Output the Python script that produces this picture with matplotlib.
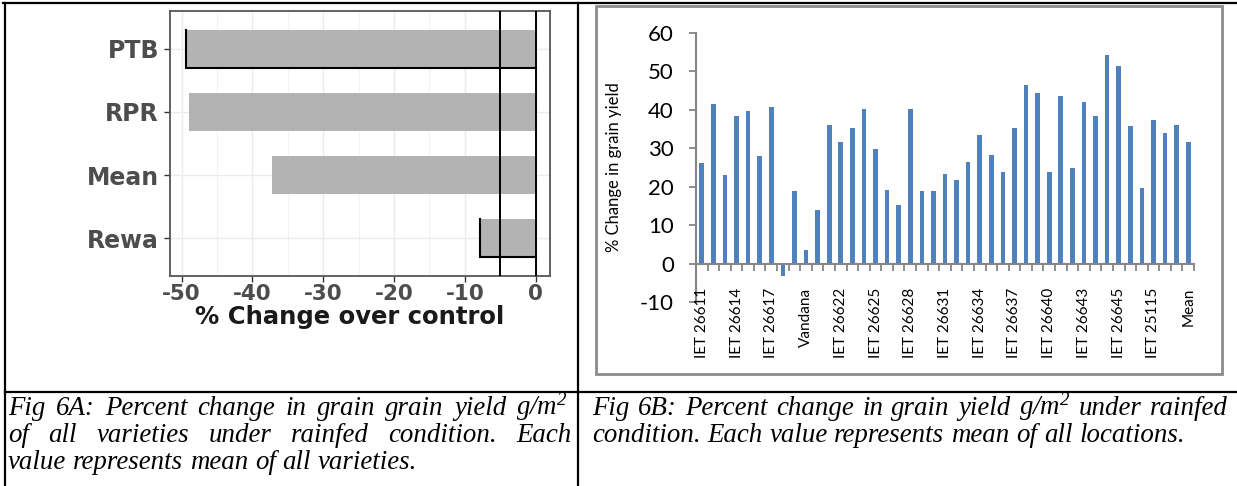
import matplotlib
matplotlib.use("Agg")
import matplotlib.pyplot as plt
import matplotlib.transforms as mtransforms
import numpy as np
from matplotlib.lines import Line2D
from matplotlib.patches import Rectangle

# ---- data -------------------------------------------------------------
# Fig 6A: mean % change over control by location
locations = ["PTB", "RPR", "Mean", "Rewa"]
loc_change = [-49.4, -48.9, -37.3, -7.8]
outlined_locations = ["PTB", "Rewa"]
ref_line = -5

# Fig 6B: % change in grain yield per entry (43 entries, every third labelled)
yield_change = [26.3, 41.5, 23.0, 38.5, 39.7, 28.0, 40.8, -3.2, 19.0, 3.6,
                14.0, 36.1, 31.6, 35.4, 40.1, 29.9, 19.2, 15.3, 40.2, 18.8,
                19.0, 23.3, 21.8, 26.4, 33.5, 28.3, 23.7, 35.3, 46.5, 44.5,
                23.8, 43.5, 24.8, 42.0, 38.5, 54.4, 51.5, 35.9, 19.6, 37.3,
                34.0, 36.1, 31.7]
entry_labels = ["IET 26611", "IET 26614", "IET 26617", "Vandana", "IET 26622",
                "IET 26625", "IET 26628", "IET 26631", "IET 26634", "IET 26637",
                "IET 26640", "IET 26643", "IET 26645", "IET 25115", "Mean"]
label_step = 3
y_ticks_b = [-10, 0, 10, 20, 30, 40, 50, 60]
x_ticks_a = [-50, -40, -30, -20, -10, 0]

caption_a = ["Fig 6A: Percent change in grain grain yield g/m$^2$",
             "of all varieties under rainfed condition. Each",
             "value represents mean of all varieties."]
caption_b = ["Fig 6B: Percent change in grain yield g/m$^2$ under rainfed",
             "condition. Each value represents mean of all locations."]

# ---- figure -----------------------------------------------------------
W, H = 1237, 486
plt.rcParams["mathtext.fontset"] = "custom"
plt.rcParams["mathtext.rm"] = "Liberation Serif:italic"
plt.rcParams["mathtext.it"] = "Liberation Serif:italic"
fig = plt.figure(figsize=(W / 100, H / 100), dpi=100)
fig.patch.set_facecolor("white")


def rect(l, t, r, b):
    return [l / W, 1 - b / H, (r - l) / W, (b - t) / H]


def fx(x):
    return x / W


def fy(y):
    return 1 - y / H


# ---- table frame --------------------------------------------------------
for xs, ys in [((3, W), (3, 3)), ((5, 5), (3, H)), ((578, 578), (3, H)),
               ((5, W), (392, 392))]:
    fig.add_artist(Line2D([fx(v) for v in xs], [fy(v) for v in ys],
                          transform=fig.transFigure, color="black", lw=1.6))

# ---- panel A ------------------------------------------------------------
axA = fig.add_axes(rect(170, 11, 550, 276))
ypos = np.arange(len(locations))
bar_h = 0.6
axA.barh(ypos, loc_change, height=bar_h, color="#b3b3b3", zorder=2)
for name, v, y in zip(locations, loc_change, ypos):
    if name in outlined_locations:
        axA.plot([v, v, 0], [y - bar_h / 2, y + bar_h / 2, y + bar_h / 2],
                 color="black", lw=1.5, zorder=3, solid_joinstyle="miter")
axA.axvline(ref_line, color="black", lw=1.4, zorder=4)
axA.axvline(0, color="black", lw=1.4, zorder=4)
axA.set_xlim(-51.65, 2.02)
axA.set_ylim(len(locations) - 0.4, -0.6)
axA.set_xticks(x_ticks_a)
axA.set_xticks([t + 5 for t in x_ticks_a[:-1]], minor=True)
axA.set_xticklabels([str(t) for t in x_ticks_a])
axA.set_yticks(ypos)
axA.set_yticklabels(locations)
axA.grid(True, which="major", color="#ebebeb", lw=1.0, zorder=0)
axA.grid(True, which="minor", axis="x", color="#f3f3f3", lw=0.8, zorder=0)
axA.set_axisbelow(True)
axA.tick_params(axis="both", which="major", length=4, width=1, color="#333333",
                labelcolor="#4d4d4d")
axA.tick_params(axis="x", which="major", labelsize=15.5, pad=2)
axA.tick_params(axis="y", which="major", labelsize=17, pad=4)
axA.tick_params(axis="x", which="minor", length=0)
for lab in axA.get_xticklabels() + axA.get_yticklabels():
    lab.set_fontweight("bold")
for sp in axA.spines.values():
    sp.set_color("#555555")
    sp.set_linewidth(1.3)
fig.text(fx(350), fy(317), "% Change over control", ha="center", va="center",
         fontsize=17.5, fontweight="bold", color="#1a1a1a")

# ---- panel B ------------------------------------------------------------
fig.add_artist(Rectangle((fx(596), fy(374)), (1222 - 596) / W, (374 - 6) / H,
                         transform=fig.transFigure, fill=False,
                         ec="#8c8c8c", lw=2))
axB = fig.add_axes(rect(696, 33, 1194, 302))
n = len(yield_change)
xb = np.arange(n)
axB.bar(xb, yield_change, width=0.4, color="#4f81bd", zorder=2)
axB.set_xlim(-0.5, n - 0.5)
axB.set_ylim(-10, 60)
axB.set_yticks(y_ticks_b)
axB.set_yticklabels([str(t) for t in y_ticks_b])
axB.set_xticks(np.arange(-0.5, n, 1.0))
axB.set_xticklabels([])
for side in ("top", "right"):
    axB.spines[side].set_visible(False)
axB.spines["bottom"].set_position(("data", 0))
for side in ("left", "bottom"):
    axB.spines[side].set_color("#868686")
    axB.spines[side].set_linewidth(1.5)
axB.tick_params(axis="x", direction="out", length=5, width=1.3,
                color="#868686")
axB.tick_params(axis="y", direction="out", length=5, width=1.3, color="#868686",
                labelsize=16, pad=11)
for lab in axB.get_yticklabels():
    lab.set_fontfamily("Lato")
    lab.set_color("black")

# category labels hang below the zero line, reading bottom-to-top
label_tr = mtransforms.offset_copy(axB.transData, fig=fig, x=0, y=-24,
                                   units="dots")
for xi, name in zip(xb[::label_step], entry_labels):
    axB.text(xi, 0, name, transform=label_tr, rotation=90,
             rotation_mode="default", ha="center", va="top",
             fontsize=11, family="Lato", color="black", clip_on=False)

fig.text(fx(614), fy(167), "% Change in grain yield", rotation=90,
         ha="center", va="center", fontsize=12, family="Lato")

# ---- captions -----------------------------------------------------------
renderer = fig.canvas.get_renderer()
CAP_SIZE = 19.4


def caption_line(line, x0, x1, y, justify):
    words = line.split(" ")
    texts = [fig.text(0, 0, w, fontsize=CAP_SIZE, family="Liberation Serif",
                      style="italic", ha="left", va="baseline") for w in words]
    widths = [t.get_window_extent(renderer).width for t in texts]
    if justify and len(words) > 1:
        gap = (x1 - x0 - sum(widths)) / (len(words) - 1)
    else:
        gap = CAP_SIZE * 100 / 72 * 0.25
    x = x0
    for t, w in zip(texts, widths):
        t.set_position((fx(x), fy(y)))
        x += w + gap


baselines = [415, 442, 469]
caption_line(caption_a[0], 8, 568, baselines[0], True)
caption_line(caption_a[1], 8, 572, baselines[1], True)
caption_line(caption_a[2], 8, 572, baselines[2], False)
caption_line(caption_b[0], 592, 1228, baselines[0], True)
caption_line(caption_b[1], 592, 1228, baselines[1], False)

fig.savefig("out.png", dpi=100)
